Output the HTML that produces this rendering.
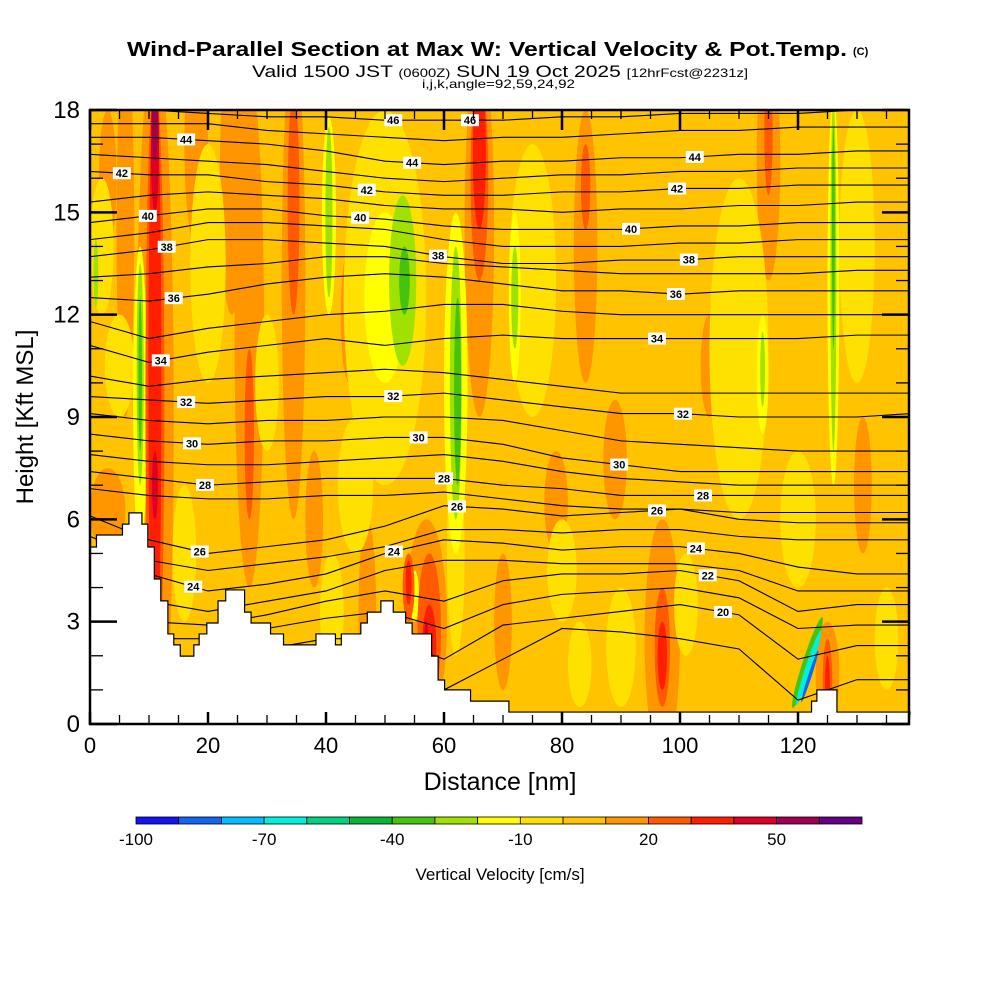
<!DOCTYPE html>
<html><head><meta charset="utf-8"><style>
body{margin:0;background:#fff;}
svg{display:block;font-family:"Liberation Sans",sans-serif;}
</style></head><body>
<svg id="chart" width="1000" height="1000" viewBox="0 0 1000 1000" xmlns="http://www.w3.org/2000/svg">
<defs><clipPath id="plotclip"><rect x="90" y="110" width="819" height="614"/></clipPath></defs>
<text x="127" y="56" font-size="20" font-weight="bold" textLength="720" lengthAdjust="spacingAndGlyphs">Wind-Parallel Section at Max W: Vertical Velocity &amp; Pot.Temp.</text>
<text x="853" y="55" font-size="11" font-weight="bold">(C)</text>
<text x="252" y="77" font-size="17" textLength="496" lengthAdjust="spacingAndGlyphs">Valid 1500 JST <tspan font-size="12">(0600Z)</tspan> SUN 19 Oct 2025 <tspan font-size="12">[12hrFcst@2231z]</tspan></text>
<text x="422" y="88" font-size="12" textLength="153" lengthAdjust="spacingAndGlyphs">i,j,k,angle=92,59,24,92</text>
<rect x="90" y="110" width="819" height="614" fill="#FFC300"/>
<g id="field" clip-path="url(#plotclip)"></g>
<g id="contours" clip-path="url(#plotclip)"></g>
<g id="terrain"></g>
<g id="labels" clip-path="url(#plotclip)"></g>
<g id="axes"></g>
<g id="cbar"></g>
<text x="500" y="790" font-size="25" text-anchor="middle">Distance [nm]</text>
<text x="0" y="0" font-size="24" text-anchor="middle" transform="translate(33,417) rotate(-90)">Height [Kft MSL]</text>
<text x="500" y="880" font-size="17" text-anchor="middle">Vertical Velocity [cm/s]</text>
</svg>
<script>
// ---- data ----
const xTicks=[0,20,40,60,80,100,120];
const yTicks=[0,3,6,9,12,15,18];
const cbarBins=[-100,-90,-80,-70,-60,-50,-40,-30,-20,-10,0,10,20,30,40,50,60,70];
const cbarColors=["#1414F0","#1464F0","#00BEFF","#00F0DC","#00D282","#0AB432","#46C30F","#A0E100","#FFFF00","#FFE100","#FFC300","#FF9600","#FF5A00","#FF1E00","#DC0028","#A00050","#640082"];
const cbarLabels=[-100,-70,-40,-10,20,50];
const contourX=[0,10,20,30,40,50,60,70,80,90,100,110,120,130,139];
const thetaLevels=[46,45,44,43,42,41,40,39,38,37,36,35,34,33,32,31,30,29,28,27,26,25,24,23,22,21,20,19];
const c46=[18.0,18.0,17.9,17.8,17.8,17.7,17.7,17.7,17.8,17.8,17.9,17.9,17.9,18.0,18.0];
const c45=[17.6,17.6,17.6,17.4,17.3,17.2,17.1,17.2,17.2,17.3,17.4,17.4,17.5,17.5,17.5];
const c44=[17.2,17.2,17.1,17.0,16.8,16.5,16.4,16.5,16.5,16.6,16.6,16.7,16.7,16.8,16.8];
const c43=[16.7,16.6,16.5,16.4,16.2,16.0,15.9,16.0,16.1,16.1,16.2,16.2,16.3,16.3,16.3];
const c42=[16.2,16.1,16.1,15.9,15.8,15.6,15.5,15.5,15.6,15.6,15.7,15.7,15.8,15.8,15.8];
const c41=[15.3,15.5,15.6,15.5,15.4,15.2,15.1,15.1,15.0,15.1,15.1,15.2,15.2,15.3,15.3];
const c40=[14.7,14.9,15.1,15.1,14.9,14.8,14.6,14.5,14.5,14.5,14.6,14.6,14.7,14.7,14.7];
const c39=[14.2,14.4,14.7,14.7,14.6,14.5,14.2,14.0,14.0,14.0,14.1,14.1,14.2,14.2,14.2];
const c38=[13.7,13.9,14.2,14.2,14.1,14.0,13.7,13.5,13.5,13.6,13.6,13.7,13.7,13.7,13.7];
const c37=[13.1,13.2,13.4,13.5,13.7,13.7,13.5,13.4,13.3,13.2,13.2,13.2,13.2,13.3,13.3];
const c36=[12.5,12.4,12.6,12.9,13.1,13.2,13.1,12.9,12.7,12.7,12.6,12.7,12.7,12.7,12.7];
const c35=[11.8,11.3,11.6,11.8,12.0,12.1,12.3,12.3,12.1,12.0,12.0,12.0,12.0,12.0,12.0];
const c34=[11.1,10.6,10.9,11.1,11.3,11.1,11.3,11.4,11.3,11.3,11.3,11.3,11.3,11.4,11.4];
const c33=[10.2,9.9,10.1,10.2,10.3,10.4,10.3,10.1,9.9,9.7,9.7,9.7,9.7,9.7,9.7];
const c32=[9.6,9.5,9.4,9.5,9.6,9.6,9.7,9.5,9.3,9.1,9.1,9.0,9.0,9.0,9.1];
const c31=[9.1,8.9,8.8,8.9,8.9,9.0,9.0,8.9,8.6,8.3,8.2,8.1,8.0,8.0,8.0];
const c30=[8.5,8.3,8.2,8.3,8.3,8.4,8.4,8.2,7.8,7.6,7.4,7.4,7.4,7.4,7.4];
const c29=[7.9,7.7,7.6,7.6,7.7,7.8,7.9,7.7,7.4,7.2,7.1,7.0,7.0,7.0,7.0];
const c28=[7.4,7.2,7.0,7.1,7.2,7.2,7.2,7.0,6.9,6.7,6.7,6.7,6.7,6.7,6.7];
const c27=[6.9,6.7,6.6,6.6,6.7,6.7,6.8,6.6,6.4,6.3,6.3,6.2,6.2,6.2,6.2];
const c26=[6.1,5.4,5.0,5.2,5.4,5.8,6.4,6.3,6.1,6.2,6.3,6.0,5.9,5.9,5.9];
const c25=[5.5,4.8,4.5,4.7,4.9,5.2,5.7,5.7,5.6,5.7,5.7,5.5,5.4,5.4,5.4];
const c24=[4.8,4.4,3.9,4.1,4.4,5.0,5.4,5.3,5.1,5.2,5.2,5.0,4.6,4.4,4.4];
const c23=[4.2,3.6,3.3,3.6,3.9,4.5,4.8,4.8,4.7,4.7,4.7,4.5,3.9,3.9,3.9];
const c22=[3.6,3.0,2.9,3.2,3.6,3.9,3.6,4.2,4.4,4.4,4.5,4.2,3.3,3.5,3.5];
const c21=[3.0,2.5,2.5,2.8,3.1,3.3,2.8,3.5,3.8,3.9,4.0,3.7,2.8,2.9,2.9];
const c20=[2.2,1.9,1.9,2.2,2.5,2.5,1.9,2.9,3.1,3.3,3.5,3.2,1.9,2.3,2.3];
const c19=[0.7,0.7,0.7,1.0,1.3,1.3,1.0,1.9,2.8,2.7,2.5,2.2,0.7,1.3,1.3];
const contourHeights=[c46,c45,c44,c43,c42,c41,c40,c39,c38,c37,c36,c35,c34,c33,c32,c31,c30,c29,c28,c27,c26,c25,c24,c23,c22,c21,c20,c19];
const labelLevels=[46,46,44,44,44,42,42,42,40,40,40,38,38,38,36,36,34,34,32,32,32,30,30,30,28,28,28,26,26,26,24,24,24,22,20];
const labelDist=[51.4,64.4,16.3,54.6,102.5,5.4,46.9,99.5,9.8,45.8,91.7,13.0,59.0,101.5,14.2,99.3,12.0,96.1,16.3,51.4,100.5,17.3,55.7,89.7,19.5,60.0,103.9,62.2,96.1,18.6,51.5,102.7,17.5,104.7,107.3];
// field cells: value (cm/s), distance nm, bottom kft, top kft, half width nm, tilt deg
const wVal=[15,15,15,15,15,15,15,15,15,15,15,15,15,15,15,15,15,15,15,15,15,15,
 -5,-5,-5,-5,-5,-5,-5,-5,-5,-5,-5,-5,-5,-5,-5,-5,-5,-5,
 -15,-15,-15,-15,-15,-15,-15,-15,
 -25,-25,-25,-25,-25,-25,-25,-25,
 -35,-35,-35,-35,
 25,25,25,25,25,25,25,25,25,25,
 35,35,35,35,35,35,
 45,45,45,55,
 -35,-65,-85];
const wDist=[11,27,34.5,24,6,3,57,66,84,97,89,79,115,125,47,105,38,70,131,18,3,44,
 50,75,110,20,130,2,41,83,90,62,5,30,45,120,135,101,80,16,
 50,40.5,62,8.5,126,72,114,55,
 53,40.5,62,72,8.5,114,126,1,
 53.3,62.3,8.5,126,
 11,34.5,27,57.5,54,66,97,84,115,125,
 11,57.5,54,66,97,125,
 11,11,57,11,
 121.6,121.8,122];
const wBot=[-2,4,6,12,9,5,0,9,10,-1,6,5,13,0,0.5,9,4,1,5,14,14,10,
 7,9,6,10,10,12,1.5,0.5,0.5,2,9,8,5,4,1,2,3,3,
 10,12,5,5,7,10,8.5,3,
 10.5,12.5,6,11,7,9.3,8,12.2,
 12,7,8,11,
 0,12,6,0.5,3,13,0.5,14.5,15.5,0,
 1,1,3.5,14.5,1,0.3,
 15,6,1.5,16.5,
 0.4,0.5,0.6];
const wTop=[20,19,20,20,20,7.5,6,20,18,6,9.5,8,20,3,6,12,8,5,9,20,18,14,
 18,17,16,17,18,16,5,3,4,8,12,12,9,8,4,5,6,7,
 15,17.8,15,14,18.5,15,12,4.5,
 15.5,17.5,14,14,13.5,11.5,18.3,14.2,
 14,12.5,12.5,17.5,
 19,18.5,11,5,5,19,4,17,19,2.5,
 19,3.5,4.8,19,3,2,
 19,8,3,19,
 3.2,2.8,2.2];
const wHalf=[3.2,2.5,2,2,1.5,3,3.5,2.5,2,3,2,2,2,2,1.5,1.5,1.5,1.5,1.5,2,1.5,1.5,
 7,4,5,3,3,2,2,2,2.5,1.5,2.5,2,3,3,2,2,2.5,2,
 3.5,1.2,2,1.2,1,1,1,0.8,
 2.3,0.6,1,0.6,0.6,0.4,0.5,0.4,
 0.9,0.6,0.3,0.25,
 1.6,1,0.8,2,1,1.5,1.3,0.8,0.7,0.8,
 1.1,1.2,0.5,1.1,0.8,0.4,
 0.7,0.5,0.4,0.5,
 0.8,0.55,0.3];
const wTilt=[0,0,0,0,0,0,0,0,0,0,0,0,0,0,0,0,0,0,0,0,0,0,
 0,0,0,0,0,0,0,0,0,0,0,0,0,0,0,0,0,0,
 0,0,0,0,0,0,0,0,
 0,0,0,0,0,0,0,0,
 0,0,0,0,
 0,0,0,0,0,0,0,0,0,0,
 0,0,0,0,0,0,
 0,0,0,0,
 18,18,18];
const terrainEdges=[0,1.1,5.5,6.6,8.8,9.8,10.9,12.0,13.2,14.2,15.3,17.6,18.5,19.8,21.7,23.0,26.2,27.3,30.6,32.8,38.3,41.6,42.6,45.9,47.0,49.3,51.4,53.5,54.6,57.9,59.0,60.1,64.5,71.0,122.3,123.2,126.6,139];
const terrainHeights=[5.19,5.54,5.86,6.19,5.86,5.19,4.25,3.61,2.64,2.32,1.99,2.32,2.64,2.96,3.61,3.93,3.28,2.96,2.64,2.32,2.64,2.32,2.64,2.96,3.28,3.61,3.28,2.96,2.64,1.99,1.29,1.0,0.67,0.35,0.67,1.0,0.35];

// ---- scales ----
const X0=90,X1=909,Y0=724,Y1=110;
const X=d=>X0+d*5.9;
const Y=k=>Y0-k*(Y0-Y1)/18;
const NS="http://www.w3.org/2000/svg";
function mk(tag,parent){const e=document.createElementNS(NS,tag);parent.appendChild(e);return e;}
function colorFor(v){for(let i=0;i<cbarColors.length;i++){if(v<cbarBins[i+1])return cbarColors[i];}return cbarColors[cbarColors.length-1];}

// field
const field=document.getElementById('field');
const order=[...wVal.keys()].sort((a,b)=>Math.abs(wVal[a]-5)-Math.abs(wVal[b]-5));
for(const i of order){
  const e=mk('ellipse',field);
  
  
  const cx=X(wDist[i]),cy=(Y(wBot[i])+Y(wTop[i]))/2;
  e.setAttribute('cx',cx);e.setAttribute('cy',cy);
  e.setAttribute('rx',wHalf[i]*5.9);
  e.setAttribute('ry',Math.abs(Y(wBot[i])-Y(wTop[i]))/2);
  e.setAttribute('fill',colorFor(wVal[i]));
  if(wTilt[i])e.setAttribute('transform','rotate('+wTilt[i]+' '+cx+' '+cy+')');
}
// contours
const cg=document.getElementById('contours');
function interp(arr,d){for(let j=0;j<contourX.length-1;j++){if(d<=contourX[j+1]){const t=(d-contourX[j])/(contourX[j+1]-contourX[j]);return arr[j]+t*(arr[j+1]-arr[j]);}}return arr[arr.length-1];}
for(let i=0;i<thetaLevels.length;i++){
  const p=mk('polyline',cg);
  
  
  p.setAttribute('points',contourX.map((d,j)=>X(d)+','+Y(contourHeights[i][j])).join(' '));
  p.setAttribute('fill','none');p.setAttribute('stroke','#000');p.setAttribute('stroke-width','1.1');
}
// terrain
const tg=document.getElementById('terrain');
let pts=[X(0)+','+Y0];
for(let i=0;i<terrainHeights.length;i++){pts.push(X(terrainEdges[i])+','+Y(terrainHeights[i]));pts.push(X(terrainEdges[i+1])+','+Y(terrainHeights[i]));}
pts.push(X1+','+Y0);
const tp=mk('polygon',tg);


tp.setAttribute('points',pts.join(' '));tp.setAttribute('fill','#fff');tp.setAttribute('stroke','#000');tp.setAttribute('stroke-width','1.2');
// labels
const lg=document.getElementById('labels');
for(let i=0;i<labelLevels.length;i++){
  const idx=thetaLevels.indexOf(labelLevels[i]);
  const x=X(labelDist[i]),y=Y(interp(contourHeights[idx],labelDist[i]));
  const r=mk('rect',lg);
  
  
  r.setAttribute('x',x-9);r.setAttribute('y',y-6);r.setAttribute('width',18);r.setAttribute('height',12);r.setAttribute('fill','#fff');
  const t=mk('text',lg);
  
  
  t.setAttribute('x',x);t.setAttribute('y',y+4);t.setAttribute('font-size','11');t.setAttribute('font-weight','bold');t.setAttribute('text-anchor','middle');
  t.textContent=labelLevels[i];
}
// axes
const ag=document.getElementById('axes');
const fr=mk('rect',ag);


fr.setAttribute('x',X0);fr.setAttribute('y',Y1);fr.setAttribute('width',X1-X0);fr.setAttribute('height',Y0-Y1);fr.setAttribute('fill','none');fr.setAttribute('stroke','#000');fr.setAttribute('stroke-width','2.5');
function line(x1,y1,x2,y2,w){const l=mk('line',ag);l.setAttribute('x1',x1);l.setAttribute('y1',y1);l.setAttribute('x2',x2);l.setAttribute('y2',y2);l.setAttribute('stroke','#000');l.setAttribute('stroke-width',w);}
for(let d=0;d<=135;d+=5){const major=d%20===0;const L=major?12:9;line(X(d),Y0,X(d),Y0-L,major?2.5:1.3);line(X(d),Y1,X(d),Y1+(major?20:9),major?2.5:1.3);}
for(let k=0;k<=18;k++){const major=k%3===0;const L=major?27:13;line(X0,Y(k),X0+L,Y(k),major?2.5:1.3);line(X1,Y(k),X1-(major?27:13),Y(k),major?2.5:1.3);}
xTicks.forEach(v=>{const t=mk('text',ag);t.setAttribute('x',X(v));t.setAttribute('y',753);t.setAttribute('font-size','22');t.setAttribute('text-anchor','middle');t.textContent=v;});
yTicks.forEach(v=>{const t=mk('text',ag);t.setAttribute('x',80);t.setAttribute('y',Y(v)+8);t.setAttribute('font-size','24');t.setAttribute('text-anchor','end');t.textContent=v;});
// colorbar
const cb=document.getElementById('cbar');
const CB0=136,CB1=862,cbw=(CB1-CB0)/cbarColors.length;
const CX=v=>CB0+(v-cbarBins[0])/(cbarBins[cbarBins.length-1]-cbarBins[0])*(CB1-CB0);
for(let i=0;i<cbarColors.length;i++){const r=mk('rect',cb);r.setAttribute('x',CX(cbarBins[i]));r.setAttribute('y',817);r.setAttribute('width',cbw);r.setAttribute('height',7);r.setAttribute('fill',cbarColors[i]);r.setAttribute('stroke','#000');r.setAttribute('stroke-width','0.8');}
cbarLabels.forEach(v=>{const t=mk('text',cb);t.setAttribute('x',CX(v));t.setAttribute('y',845);t.setAttribute('font-size','17');t.setAttribute('text-anchor','middle');t.textContent=v;});
</script>
</body></html>
